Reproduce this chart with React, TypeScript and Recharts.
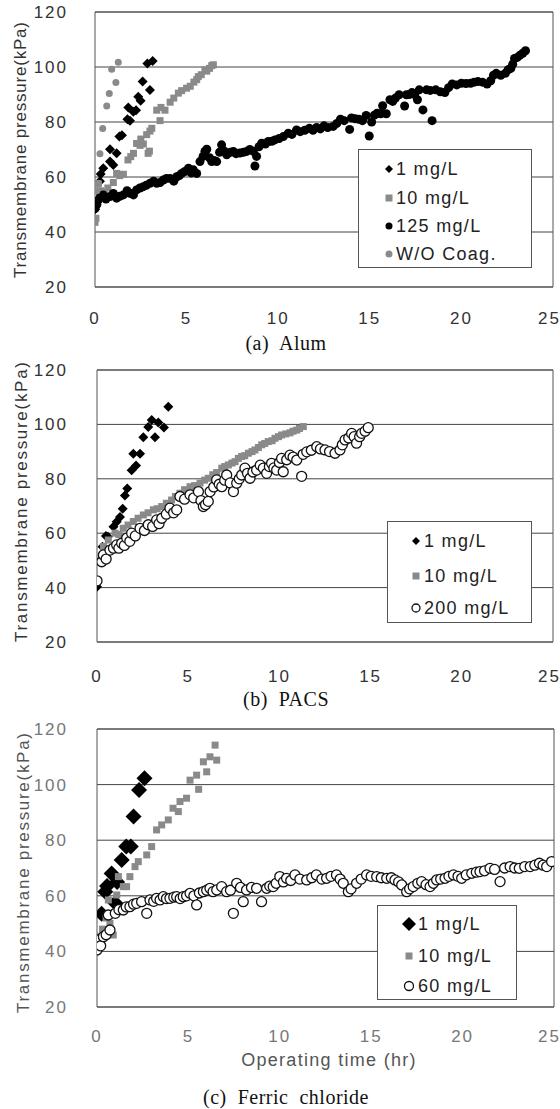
import React from 'react';
import { ScatterChart, Scatter, XAxis, YAxis, CartesianGrid, ReferenceArea } from 'recharts';

type P = [number, number];

const xTicks = [0, 5, 10, 15, 20, 25];
const yTicks = [20, 40, 60, 80, 100, 120];

// (a) Alum
const alum1mg: P[] = [[0.0,48.3],[0.27,58.5],[0.31,61.1],[0.45,63.2],[0.82,65.6],[1.0,64.4],[0.82,70.1],[1.18,68.6],[1.33,74.7],[1.47,75.2],[1.77,81.0],[1.91,80.5],[1.82,85.3],[2.09,83.7],[2.24,84.3],[2.36,89.2],[2.49,87.7],[2.6,94.7],[3.0,91.6],[2.86,101.3],[3.15,102.2]];
const alum10mg: P[] = [[0.0,43.5],[0.05,45],[0.18,57.5],[0.3,55],[0.5,54.5],[0.7,56],[1.0,58],[1.18,61.3],[1.35,60.5],[1.55,61],[1.8,66.2],[1.95,67.4],[2.1,68.6],[2.27,72.2],[2.46,71.5],[2.5,73.8],[2.64,72],[2.9,68.6],[2.97,69.4],[2.82,75.4],[3.0,76.7],[3.1,77.7],[3.37,84.3],[3.55,80.5],[3.6,85.3],[3.82,84.3],[4.1,87.2],[4.3,88.7],[4.55,90.5],[4.73,91.4],[5.0,92.3],[5.2,93],[5.4,94.5],[5.55,95.4],[5.64,96.5],[5.8,97.2],[6.0,98.9],[6.1,98.5],[6.25,99.5],[6.37,100.5],[6.46,100.8]];
const alum125mg: P[] = [[0.0,48.5],[0.1,50],[0.18,51.6],[0.3,53],[0.45,53.5],[0.6,52],[0.82,52.9],[1.0,54],[1.18,52.3],[1.35,53],[1.55,53.5],[1.75,55],[1.91,54.1],[2.1,53.5],[2.27,55.3],[2.45,56],[2.64,56.5],[2.8,57],[3.0,57.7],[3.2,58.5],[3.37,57.7],[3.55,58],[3.73,58.9],[3.9,59.5],[4.1,59.5],[4.3,58.5],[4.46,60.1],[4.6,60.5],[4.73,61.3],[4.9,62],[5.1,63.2],[5.25,61.5],[5.37,62.6],[5.55,61.3],[5.73,65.6],[5.9,67.5],[6.0,69.3],[6.1,70.1],[6.25,67],[6.37,65.6],[6.5,66],[6.64,65.6],[6.8,69],[6.91,71.7],[7.05,69.5],[7.19,68.1],[7.4,69],[7.55,69.3],[7.7,68.5],[7.91,68.7],[8.1,69],[8.28,69.3],[8.45,70],[8.64,69.3],[8.82,67.5],[8.73,64.0],[8.95,71],[9.1,72.3],[9.3,72],[9.46,72.9],[9.65,73],[9.82,73.5],[10.05,74],[10.28,74.7],[10.55,75.9],[10.75,75.5],[11.0,77.1],[11.2,76.5],[11.45,77],[11.7,77.7],[11.9,77],[12.1,78],[12.3,77.5],[12.5,78.6],[12.7,78],[13.0,78.4],[13.2,79.5],[13.4,81.0],[13.6,80.5],[13.9,77.3],[14.0,81.5],[14.2,81.2],[14.4,81],[14.6,80.5],[14.8,82.4],[14.97,74.9],[15.1,80.0],[15.25,82.5],[15.4,83.2],[15.6,83],[15.7,85.9],[15.9,83.0],[16.1,88.1],[16.25,87.5],[16.4,88.7],[16.6,89.9],[16.9,85.8],[17.0,89.9],[17.15,90],[17.3,90.7],[17.45,90],[17.6,88.1],[17.7,91.7],[17.9,84.4],[18.1,91.7],[18.3,91.5],[18.4,80.5],[18.6,91.7],[18.85,91],[19.1,90.7],[19.3,92.5],[19.5,93.8],[19.75,93.5],[20.0,94.1],[20.25,94],[20.5,94.1],[20.7,94.5],[20.9,94.7],[21.15,94.5],[21.4,93.8],[21.6,95],[21.75,97],[21.9,97.7],[22.15,97],[22.4,97.7],[22.55,99],[22.7,99.5],[22.8,101],[22.9,103.1],[23.05,103.5],[23.2,104.3],[23.35,105],[23.5,105.9]];
const alumNone: P[] = [[0.1,55],[0.18,57.7],[0.27,68.5],[0.42,77.6],[0.64,85.8],[0.78,90.4],[0.91,99.2],[1.14,94.4],[1.27,101.7]];

// (b) PACS
const pacs1mg: P[] = [[0.0,40.3],[0.3,55],[0.49,59.0],[0.6,58.7],[0.9,62.4],[1.08,64.2],[1.26,66.0],[1.41,69.0],[1.53,73.9],[1.66,76.4],[1.9,83.1],[2.14,84.9],[1.99,89.2],[2.36,89.2],[2.54,95.3],[3.18,95.3],[2.81,99.0],[3.0,101.6],[3.36,100.7],[3.67,98.9],[3.91,106.5]];
const pacs10mg: P[] = [[0.2,50],[0.35,55.1],[0.62,57.5],[0.99,60.0],[1.2,59.5],[1.44,61.8],[1.7,63],[1.99,64.3],[2.25,65.5],[2.54,66.7],[2.8,67.5],[3.09,68.6],[3.3,69],[3.55,69.8],[3.8,71],[4.09,72.2],[4.3,73.5],[4.55,74.7],[4.8,76],[5.1,77.1],[5.35,77.5],[5.65,78.4],[5.9,79.5],[6.1,80.2],[6.35,81.5],[6.56,82.3],[6.84,83.9],[7.0,84.5],[7.2,85.1],[7.4,85.8],[7.57,86.3],[7.75,87.5],[7.93,88.2],[8.1,88.5],[8.3,89.4],[8.5,90],[8.66,90.6],[8.85,91.5],[9.03,92.5],[9.2,93],[9.39,93.7],[9.6,94],[9.76,94.9],[9.95,95.5],[10.12,96.1],[10.35,96.5],[10.58,96.9],[10.75,97.5],[10.95,97.9],[11.1,98.5],[11.31,99.2]];
const pacs200mg: P[] = [[0.0,42.5],[0.26,49.5],[0.35,52],[0.5,50.5],[0.71,53.8],[0.9,54.5],[1.08,55.7],[1.2,54.5],[1.35,56.3],[1.5,55.5],[1.63,58.2],[1.8,57],[1.9,60],[2.1,59],[2.36,61.8],[2.6,61],[2.81,63.1],[3.05,62.5],[3.27,64.9],[3.4,63.5],[3.55,65.5],[3.8,67],[4.0,69.2],[4.2,67.5],[4.37,68.6],[4.55,73.5],[4.8,72.5],[5.1,74.1],[5.3,73],[5.56,75.3],[5.7,72],[5.83,69.8],[5.95,70.5],[6.1,71.7],[6.2,75.3],[6.4,77],[6.56,79.6],[6.7,78],[6.84,77.1],[7.0,79.5],[7.11,81.4],[7.3,78.5],[7.48,75.3],[7.66,78.4],[7.8,80],[7.93,81.4],[8.11,83.9],[8.25,82],[8.39,80.2],[8.55,82.5],[8.75,83.2],[8.95,85],[9.12,83.9],[9.3,82.0],[9.45,84.5],[9.57,85.7],[9.7,84],[9.85,83.2],[10.0,86],[10.12,87.5],[10.21,82.6],[10.4,87],[10.58,88.7],[10.75,88],[10.95,86.9],[11.22,80.9],[11.3,89],[11.5,89.9],[11.75,90.5],[12.05,91.8],[12.25,91],[12.5,90.6],[12.75,90],[13.05,89.4],[13.32,90.6],[13.45,92.5],[13.6,94.3],[13.8,95],[13.96,96.7],[14.1,95.5],[14.23,93.1],[14.4,95.5],[14.51,96.7],[14.7,97.5],[14.87,98.8]];

// (c) Ferric chloride
const ferric1mg: P[] = [[0.25,53.5],[0.45,61.5],[0.55,63.5],[0.8,68],[1.0,57.4],[1.1,65],[1.35,72.9],[1.6,77.7],[1.85,77.7],[2.0,88.5],[2.3,98.1],[2.6,102.3]];
const ferric10mg: P[] = [[0.07,45.4],[0.3,48],[0.5,52],[0.71,50.1],[0.89,45.9],[0.62,58.5],[1.08,60.3],[1.17,66.9],[1.44,63.3],[1.62,63.3],[1.8,66.9],[2.08,70.5],[2.26,72.3],[2.72,74.7],[2.99,77.7],[3.26,83.7],[3.54,85.5],[3.9,87.3],[4.16,91.5],[4.45,90.3],[4.54,93.9],[4.9,95.1],[5.09,101.6],[5.45,103.4],[5.56,98.3],[5.82,108.2],[6.0,104.6],[6.18,110.0],[6.55,108.8],[6.46,114.2]];
const ferric60mg: P[] = [[0.0,40.5],[0.07,44.1],[0.2,42],[0.35,45.3],[0.5,46],[0.71,47.7],[0.62,53.1],[1.0,53.7],[1.2,55],[1.44,54.9],[1.6,56],[1.8,56.1],[2.0,57],[2.17,57.3],[2.44,57.9],[2.72,53.7],[2.9,58.5],[3.1,58],[3.26,59.1],[3.45,58.5],[3.63,59.7],[3.8,59],[3.99,59.1],[4.2,59.5],[4.36,59.7],[4.55,59],[4.72,59.7],[4.9,60],[5.09,60.9],[5.3,60],[5.45,56.7],[5.6,61],[5.82,61.5],[6.0,62],[6.18,62.7],[6.35,61.5],[6.55,62.1],[6.82,63.3],[7.09,61.5],[7.3,62],[7.46,53.7],[7.64,64.5],[7.85,63],[8.0,57.9],[8.18,62.1],[8.45,63],[8.73,62.7],[9.0,57.9],[9.28,62.7],[9.45,63.5],[9.64,63.3],[9.8,64.5],[10.0,66.9],[10.2,65],[10.37,66.3],[10.6,65.5],[10.83,67.5],[11.1,66],[11.47,65.7],[11.75,66.5],[12.0,67.5],[12.3,66],[12.56,66.3],[12.8,67],[13.1,67.5],[13.3,66],[13.47,64.5],[13.75,61.5],[13.9,62.5],[14.2,64.5],[14.45,66],[14.75,67.5],[15.0,67],[15.3,66.9],[15.55,66.5],[15.85,66.3],[16.1,66.5],[16.3,65.7],[16.5,65],[16.67,63.9],[16.94,61.5],[17.1,62.5],[17.3,63.3],[17.55,64.5],[17.76,65.1],[18.0,64],[18.22,63.3],[18.4,64.5],[18.58,65.7],[18.8,66],[19.04,66.3],[19.25,67],[19.5,67.5],[19.75,67],[19.95,66.3],[20.2,67.5],[20.5,68.1],[20.75,68.5],[20.95,68.7],[21.2,69],[21.5,69.9],[21.75,69.5],[22.05,65.1],[22.3,70],[22.6,70.5],[22.85,70],[23.1,69.9],[23.4,70.5],[23.7,70.5],[23.95,71],[24.2,71.7],[24.4,71],[24.6,70.5],[24.87,72.3]];

type Marker = 'diamond' | 'square' | 'circle' | 'open';
interface SeriesDef { name: string; data: P[]; marker: Marker; size: number; fill: string; }

const SANS = '"Liberation Sans", Arial, sans-serif';
const SERIF = '"Liberation Serif", "Times New Roman", serif';

function drawMarker(m: Marker, size: number, fill: string, cx: number, cy: number) {
  const h = size / 2;
  if (m === 'diamond') return <path d={`M${cx},${cy - h}L${cx + h},${cy}L${cx},${cy + h}L${cx - h},${cy}Z`} fill={fill} />;
  if (m === 'square') return <rect x={cx - h} y={cy - h} width={size} height={size} fill={fill} />;
  if (m === 'circle') return <circle cx={cx} cy={cy} r={h} fill={fill} />;
  return <circle cx={cx} cy={cy} r={h} fill="#fff" stroke="#111" strokeWidth={1.3} />;
}

interface PanelProps {
  top: number; height: number;
  margin: { top: number; right: number; bottom: number; left: number };
  series: SeriesDef[];
  tickColor: string; xTickMargin: number; yTickMargin: number;
  yLabel: { x: number; y: number; len: number; color: string };
  legend: { left: number; top: number; width: number; height: number; mx: number; tx: number; rows: number[]; markerScale: number[] };
  xTitle?: { x: number; y: number; text: string };
}

function Panel(p: PanelProps) {
  const tickStyle = { fontSize: 17, fill: p.tickColor, letterSpacing: 2, fontFamily: SANS };
  return (
    <div style={{ position: 'absolute', left: 0, top: p.top, width: 560, height: p.height }}>
      <ScatterChart width={560} height={p.height} margin={p.margin}>
        <CartesianGrid horizontal vertical={false} stroke="#444" strokeWidth={1} />
        <ReferenceArea x1={0} x2={25} y1={20} y2={120} fill="none" fillOpacity={0} stroke="#555" strokeWidth={1} ifOverflow="visible" />
        <XAxis type="number" dataKey="x" domain={[0, 25]} ticks={xTicks} tickLine={false} axisLine={false}
          tickMargin={p.xTickMargin} height={30} tick={tickStyle} allowDataOverflow
          label={p.xTitle ? (() => (
            <text x={p.xTitle!.x} y={p.xTitle!.y} textAnchor="middle" dominantBaseline="central" fontSize={18}
              letterSpacing={1.3} fill="#555" fontFamily={SANS}>{p.xTitle!.text}</text>
          )) : undefined} />
        <YAxis type="number" dataKey="y" domain={[20, 120]} ticks={yTicks} tickLine={false} axisLine={false}
          tickMargin={p.yTickMargin} width={50} tick={tickStyle} allowDataOverflow
          label={() => (
            <text x={p.yLabel.x} y={p.yLabel.y} transform={`rotate(-90 ${p.yLabel.x} ${p.yLabel.y})`}
              textAnchor="middle" dominantBaseline="central" fontSize={17} fill={p.yLabel.color}
              fontFamily={SANS} textLength={p.yLabel.len} lengthAdjust="spacing">Transmembrane pressure(kPa)</text>
          )} />
        {p.series.map((s) => (
          <Scatter key={s.name} name={s.name} data={s.data.map(([x, y]) => ({ x, y }))} isAnimationActive={false}
            shape={(sp: any) => drawMarker(s.marker, s.size, s.fill, sp.cx, sp.cy)} />
        ))}
      </ScatterChart>
      <div style={{ position: 'absolute', left: p.legend.left, top: p.legend.top - p.top, width: p.legend.width,
        height: p.legend.height, border: '1px solid #555', background: '#fff', boxSizing: 'border-box' }}>
        {p.series.map((s, i) => (
          <div key={s.name} style={{ position: 'absolute', left: 0, top: p.legend.rows[i] - 12, height: 24, width: '100%' }}>
            <svg width={20} height={24} style={{ position: 'absolute', left: p.legend.mx - 10, top: 0 }}>
              {drawMarker(s.marker, p.legend.markerScale[i], s.fill, 10, 12)}
            </svg>
            <span style={{ position: 'absolute', left: p.legend.tx, top: 0, lineHeight: '24px', fontSize: 18,
              letterSpacing: 1.3, fontFamily: SANS, color: '#222', whiteSpace: 'nowrap' }}>{s.name}</span>
          </div>
        ))}
      </div>
    </div>
  );
}

const captionStyle = (cy: number): React.CSSProperties => ({
  position: 'absolute', left: 6, width: 560, top: cy - 13, lineHeight: '26px', textAlign: 'center',
  fontFamily: SERIF, fontSize: 20, color: '#111', whiteSpace: 'pre', letterSpacing: 0.5,
});

export default function App() {
  const seriesA: SeriesDef[] = [
    { name: '1 mg/L', data: alum1mg, marker: 'diamond', size: 10, fill: '#000' },
    { name: '10 mg/L', data: alum10mg, marker: 'square', size: 7, fill: '#8a8a8a' },
    { name: '125 mg/L', data: alum125mg, marker: 'circle', size: 9, fill: '#000' },
    { name: 'W/O Coag.', data: alumNone, marker: 'circle', size: 7, fill: '#8a8a8a' },
  ];
  const seriesB: SeriesDef[] = [
    { name: '1 mg/L', data: pacs1mg, marker: 'diamond', size: 10, fill: '#000' },
    { name: '10 mg/L', data: pacs10mg, marker: 'square', size: 7, fill: '#8a8a8a' },
    { name: '200 mg/L', data: pacs200mg, marker: 'open', size: 10, fill: '#fff' },
  ];
  const seriesC: SeriesDef[] = [
    { name: '1 mg/L', data: ferric1mg, marker: 'diamond', size: 16, fill: '#000' },
    { name: '10 mg/L', data: ferric10mg, marker: 'square', size: 7, fill: '#8a8a8a' },
    { name: '60 mg/L', data: ferric60mg, marker: 'open', size: 10, fill: '#fff' },
  ];
  return (
    <div style={{ position: 'absolute', left: 0, top: 0, width: 560, height: 1109, background: '#fff' }}>
      <Panel top={0} height={330} margin={{ top: 12, right: 7, bottom: 13, left: 45 }} series={seriesA}
        tickColor="#333" xTickMargin={19} yTickMargin={21}
        yLabel={{ x: 20, y: 150, len: 256, color: '#333' }}
        legend={{ left: 358, top: 149, width: 174, height: 119, mx: 30, tx: 37, rows: [19, 48, 76, 104], markerScale: [8, 7, 7, 7] }} />
      <div style={captionStyle(343)}>(a)  Alum</div>
      <Panel top={330} height={370} margin={{ top: 40, right: 7, bottom: 28, left: 47 }} series={seriesB}
        tickColor="#333" xTickMargin={22} yTickMargin={23}
        yLabel={{ x: 21, y: 172, len: 280, color: '#333' }}
        legend={{ left: 387, top: 521, width: 145, height: 102, mx: 28, tx: 36, rows: [19, 54, 86], markerScale: [8, 7, 8] }} />
      <div style={captionStyle(699)}>(b)  PACS</div>
      <Panel top={700} height={409} margin={{ top: 29, right: 6, bottom: 72, left: 47 }} series={seriesC}
        tickColor="#777" xTickMargin={17} yTickMargin={23}
        yLabel={{ x: 23, y: 173, len: 280, color: '#555' }}
        legend={{ left: 377, top: 905, width: 140, height: 95, mx: 31, tx: 40, rows: [18, 50, 80], markerScale: [14, 7, 9] }}
        xTitle={{ x: 329, y: 360, text: 'Operating time (hr)' }} />
      <div style={captionStyle(1097)}>(c)  Ferric  chloride</div>
    </div>
  );
}
